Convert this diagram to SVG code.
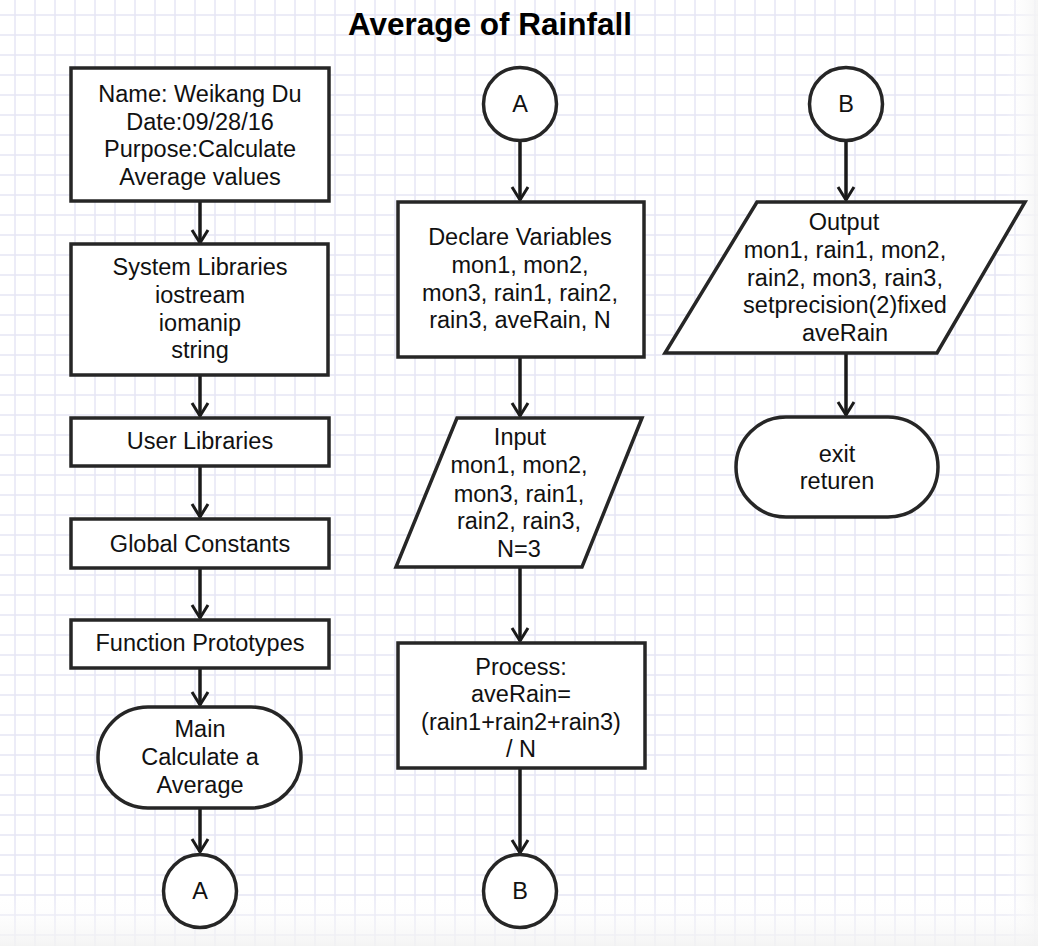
<svg xmlns="http://www.w3.org/2000/svg" width="1038" height="946" viewBox="0 0 1038 946">
<defs>
<pattern id="grid" patternUnits="userSpaceOnUse" x="14" y="14" width="20" height="20">
<path d="M0 1 H20 M1 0 V20" stroke="#e6e6f5" stroke-width="1.5" fill="none"/>
</pattern>
<linearGradient id="fadeR" x1="0" y1="0" x2="1" y2="0">
<stop offset="0" stop-color="#ffffff" stop-opacity="0"/>
<stop offset="1" stop-color="#f4f4f4" stop-opacity="0.9"/>
</linearGradient>
<linearGradient id="fadeB" x1="0" y1="0" x2="0" y2="1">
<stop offset="0" stop-color="#ffffff" stop-opacity="0"/>
<stop offset="1" stop-color="#f2f2f2" stop-opacity="0.85"/>
</linearGradient>
<marker id="arrow" markerUnits="userSpaceOnUse" markerWidth="20" markerHeight="20" viewBox="-16 -10 20 20" refX="0" refY="0" orient="auto">
<path d="M-13,-8 L0,0 L-13,8" fill="none" stroke="#1a1a1a" stroke-width="3" stroke-linejoin="miter"/>
</marker>
</defs>
<style>
.shape{fill:#ffffff;stroke:#262626;stroke-width:3.5}
.t{font-family:"Liberation Sans",Arial,sans-serif;font-size:23.5px;fill:#111111;text-anchor:middle}
.title{font-family:"Liberation Sans",Arial,sans-serif;font-size:31.5px;font-weight:bold;fill:#000000;text-anchor:middle}
.conn{stroke:#1a1a1a;stroke-width:3.5;fill:none}
</style>
<rect width="1038" height="946" fill="#ffffff"/>
<rect width="1038" height="946" fill="url(#grid)"/>
<rect x="1005" y="0" width="33" height="946" fill="url(#fadeR)"/>
<rect x="0" y="895" width="1038" height="51" fill="url(#fadeB)"/>

<text class="title" x="490" y="35">Average of Rainfall</text>

<g id="connectors">
<line class="conn" x1="200" y1="202" x2="200" y2="243" marker-end="url(#arrow)"/>
<line class="conn" x1="200" y1="376" x2="200" y2="416" marker-end="url(#arrow)"/>
<line class="conn" x1="200" y1="467" x2="200" y2="517" marker-end="url(#arrow)"/>
<line class="conn" x1="200" y1="569" x2="200" y2="618" marker-end="url(#arrow)"/>
<line class="conn" x1="200" y1="669" x2="200" y2="705" marker-end="url(#arrow)"/>
<line class="conn" x1="200" y1="809" x2="200" y2="852" marker-end="url(#arrow)"/>
<line class="conn" x1="520" y1="141" x2="520" y2="200" marker-end="url(#arrow)"/>
<line class="conn" x1="520" y1="358" x2="520" y2="416" marker-end="url(#arrow)"/>
<line class="conn" x1="520" y1="568" x2="520" y2="641" marker-end="url(#arrow)"/>
<line class="conn" x1="520" y1="769" x2="520" y2="853" marker-end="url(#arrow)"/>
<line class="conn" x1="846" y1="141" x2="846" y2="200" marker-end="url(#arrow)"/>
<line class="conn" x1="846" y1="354" x2="846" y2="415" marker-end="url(#arrow)"/>
</g>

<g id="header">
<rect class="shape" x="71" y="68" width="258" height="133"/>
<text class="t" x="200" y="102">Name: Weikang Du</text>
<text class="t" x="200" y="129.5">Date:09/28/16</text>
<text class="t" x="200" y="157">Purpose:Calculate</text>
<text class="t" x="200" y="184.5">Average values</text>
</g>

<g id="syslib">
<rect class="shape" x="71" y="244" width="257" height="131"/>
<text class="t" x="200" y="275">System Libraries</text>
<text class="t" x="200" y="303">iostream</text>
<text class="t" x="200" y="331">iomanip</text>
<text class="t" x="200" y="358">string</text>
</g>

<g id="userlib">
<rect class="shape" x="71" y="418" width="258" height="48"/>
<text class="t" x="200" y="449">User Libraries</text>
</g>

<g id="globals">
<rect class="shape" x="71" y="519" width="258" height="49"/>
<text class="t" x="200" y="552">Global Constants</text>
</g>

<g id="protos">
<rect class="shape" x="71" y="620" width="258" height="48"/>
<text class="t" x="200" y="651">Function Prototypes</text>
</g>

<g id="main">
<rect class="shape" x="98" y="707" width="203" height="101" rx="50" ry="50"/>
<text class="t" x="200" y="737">Main</text>
<text class="t" x="200" y="765">Calculate a</text>
<text class="t" x="200" y="793">Average</text>
</g>

<g id="connA1">
<circle class="shape" cx="200" cy="891" r="36.5"/>
<text class="t" x="200" y="899">A</text>
</g>

<g id="connA2">
<circle class="shape" cx="520" cy="104" r="36.5"/>
<text class="t" x="520" y="112">A</text>
</g>

<g id="declare">
<rect class="shape" x="398" y="202" width="246" height="155"/>
<text class="t" x="520" y="245">Declare Variables</text>
<text class="t" x="520" y="273">mon1, mon2,</text>
<text class="t" x="520" y="301">mon3, rain1, rain2,</text>
<text class="t" x="520" y="328">rain3, aveRain, N</text>
</g>

<g id="input">
<polygon class="shape" points="457,418 642,418 582,567 396,567"/>
<text class="t" x="520" y="445">Input</text>
<text class="t" x="519" y="473">mon1, mon2,</text>
<text class="t" x="519" y="502">mon3, rain1,</text>
<text class="t" x="519" y="529">rain2, rain3,</text>
<text class="t" x="519" y="557">N=3</text>
</g>

<g id="process">
<rect class="shape" x="398" y="643" width="247" height="125"/>
<text class="t" x="521" y="675">Process:</text>
<text class="t" x="521" y="702">aveRain=</text>
<text class="t" x="521" y="730">(rain1+rain2+rain3)</text>
<text class="t" x="521" y="757">/ N</text>
</g>

<g id="connB1">
<circle class="shape" cx="520" cy="891" r="36.5"/>
<text class="t" x="520" y="899">B</text>
</g>

<g id="connB2">
<circle class="shape" cx="846" cy="104" r="36.5"/>
<text class="t" x="846" y="112">B</text>
</g>

<g id="output">
<polygon class="shape" points="757,202 1025,202 937,353 665,353"/>
<text class="t" x="844" y="230">Output</text>
<text class="t" x="845" y="258">mon1, rain1, mon2,</text>
<text class="t" x="845" y="286">rain2, mon3, rain3,</text>
<text class="t" x="845" y="313">setprecision(2)fixed</text>
<text class="t" x="845" y="341">aveRain</text>
</g>

<g id="exit">
<rect class="shape" x="736" y="417" width="202" height="100" rx="50" ry="50"/>
<text class="t" x="837" y="462">exit</text>
<text class="t" x="837" y="489">returen</text>
</g>
</svg>
